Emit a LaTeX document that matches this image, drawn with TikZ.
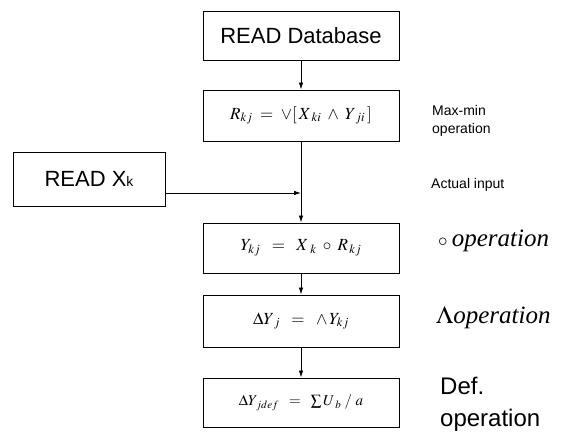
\documentclass[tikz,border=0pt]{standalone}
\usepackage{mathptmx}
\usepackage[no-math]{fontspec}
\setmainfont{Liberation Serif}
\setsansfont{Liberation Sans}
\usetikzlibrary{arrows.meta}
\tikzset{
  box/.style={draw, line width=0.9pt, minimum width=196pt, inner sep=0pt},
  arr/.style={line width=0.8pt, -{Latex[length=7pt,width=4.5pt]}},
  lbl/.style={anchor=west, inner sep=0pt, align=left},
  bigsans/.style={font=\sffamily\fontsize{22}{26}\selectfont},
  mathf/.style={font=\fontsize{17}{20}\selectfont},
  oplbl/.style={lbl, font=\fontsize{25}{30}\selectfont},
}
\begin{document}
\begin{tikzpicture}[x=1pt,y=-1pt]
\useasboundingbox (0,0) rectangle (565,433);
\node[box, bigsans, minimum height=49pt] (db) at (301,36) {READ Database};
\node[box, mathf, minimum height=51pt] (r) at (301,115.5) {$R_{kj} \;=\; \vee[\,X_{\;ki} \;\wedge\; Y_{\;ji}\,]$};
\node[box, font=\sffamily\fontsize{22}{26}\selectfont, minimum width=152pt, minimum height=54pt] (rx) at (89,179) {READ X{\fontsize{14}{16}\selectfont k}};
\node[box, mathf, minimum height=50pt] (y) at (301,248) {$Y_{kj} \;\;=\;\; X_{\;\,k} \;\circ\; R_{\,kj}$};
\node[box, mathf, minimum height=52pt] (dy) at (301,321) {$\Delta Y_{\;j} \;\;=\;\; \wedge\, Y_{kj}$};
\node[box, font=\fontsize{15}{18}\selectfont, minimum height=49pt] (dd) at (301,402.5) {$\Delta Y_{\,jdef} \;\;=\;\; \sum U_{\;b}\;/\;a$};
\coordinate (j) at (301,193);
\draw[arr] (db) -- (r);
\draw[arr] (r) -- (y);
\draw[arr] (rx.east |- j) -- (j);
\draw[arr] (y) -- (dy);
\draw[arr] (dy) -- (dd);
\node[lbl, font=\sffamily\fontsize{14}{18}\selectfont] (mm) at (432,121) {Max-min\\operation};
\node[lbl, font=\sffamily\fontsize{14}{17}\selectfont] (ai) at (431,185) {Actual input};
\node[oplbl] (co) at (438,241) {{\fontsize{19}{19}\selectfont$\circ$}\,\textit{operation}};
\node[oplbl] (lo) at (436,318) {$\Lambda$\textit{operation}};
\node[lbl, font=\sffamily\fontsize{24}{32}\selectfont] (de) at (440,404) {Def.\\operation};
\end{tikzpicture}
\end{document}
